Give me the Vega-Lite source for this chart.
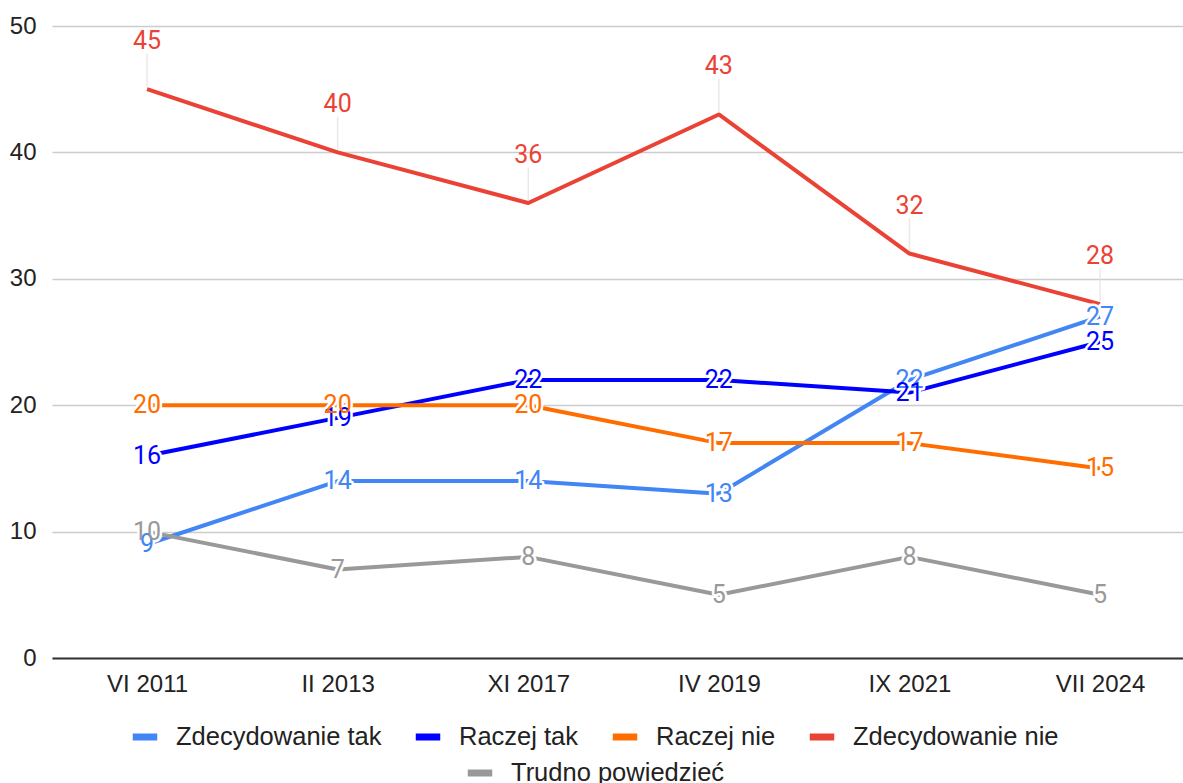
{
  "$schema": "https://vega.github.io/schema/vega-lite/v6.json",
  "autosize": {"type": "none"},
  "padding": {"left": 52, "top": 26, "right": 0, "bottom": 125},
  "width": 1131,
  "height": 632,
  "background": "white",
  "data": {
    "values": [
      {"date": "VI 2011", "series": "Zdecydowanie tak", "value": 9},
      {"date": "II 2013", "series": "Zdecydowanie tak", "value": 14},
      {"date": "XI 2017", "series": "Zdecydowanie tak", "value": 14},
      {"date": "IV 2019", "series": "Zdecydowanie tak", "value": 13},
      {"date": "IX 2021", "series": "Zdecydowanie tak", "value": 22},
      {"date": "VII 2024", "series": "Zdecydowanie tak", "value": 27},
      {"date": "VI 2011", "series": "Raczej tak", "value": 16},
      {"date": "II 2013", "series": "Raczej tak", "value": 19},
      {"date": "XI 2017", "series": "Raczej tak", "value": 22},
      {"date": "IV 2019", "series": "Raczej tak", "value": 22},
      {"date": "IX 2021", "series": "Raczej tak", "value": 21},
      {"date": "VII 2024", "series": "Raczej tak", "value": 25},
      {"date": "VI 2011", "series": "Raczej nie", "value": 20},
      {"date": "II 2013", "series": "Raczej nie", "value": 20},
      {"date": "XI 2017", "series": "Raczej nie", "value": 20},
      {"date": "IV 2019", "series": "Raczej nie", "value": 17},
      {"date": "IX 2021", "series": "Raczej nie", "value": 17},
      {"date": "VII 2024", "series": "Raczej nie", "value": 15},
      {"date": "VI 2011", "series": "Zdecydowanie nie", "value": 45},
      {"date": "II 2013", "series": "Zdecydowanie nie", "value": 40},
      {"date": "XI 2017", "series": "Zdecydowanie nie", "value": 36},
      {"date": "IV 2019", "series": "Zdecydowanie nie", "value": 43},
      {"date": "IX 2021", "series": "Zdecydowanie nie", "value": 32},
      {"date": "VII 2024", "series": "Zdecydowanie nie", "value": 28},
      {"date": "VI 2011", "series": "Trudno powiedzieć", "value": 10},
      {"date": "II 2013", "series": "Trudno powiedzieć", "value": 7},
      {"date": "XI 2017", "series": "Trudno powiedzieć", "value": 8},
      {"date": "IV 2019", "series": "Trudno powiedzieć", "value": 5},
      {"date": "IX 2021", "series": "Trudno powiedzieć", "value": 8},
      {"date": "VII 2024", "series": "Trudno powiedzieć", "value": 5}
    ]
  },
  "encoding": {
    "x": {
      "field": "date",
      "type": "ordinal",
      "sort": null,
      "scale": {"type": "point", "padding": 0.467, "align": 0.534},
      "axis": {
        "title": null,
        "labelAngle": 0,
        "labelFont": "Liberation Sans",
        "labelFontSize": 24,
        "labelColor": "#222222",
        "labelPadding": 14,
        "ticks": false,
        "grid": false,
        "domain": true,
        "domainColor": "#333333",
        "domainWidth": 2
      }
    },
    "y": {
      "field": "value",
      "type": "quantitative",
      "scale": {"domain": [0, 50], "nice": false, "zero": true},
      "axis": {
        "title": null,
        "values": [0, 10, 20, 30, 40, 50],
        "labelFont": "Liberation Sans",
        "labelFontSize": 24,
        "labelColor": "#222222",
        "labelPadding": 16,
        "ticks": false,
        "domain": false,
        "grid": true,
        "gridColor": "#cccccc",
        "gridWidth": 1.5
      }
    }
  },
  "layer": [
    {
      "transform": [{"filter": "datum.series !== 'Trudno powiedzieć'"}],
      "mark": {"type": "line", "strokeWidth": 4, "strokeJoin": "round"},
      "encoding": {
        "color": {
          "field": "series",
          "type": "nominal",
          "scale": {
            "domain": ["Zdecydowanie tak", "Raczej tak", "Raczej nie", "Zdecydowanie nie"],
            "range": ["#4285f4", "#0000ff", "#ff6d01", "#ea4335"]
          },
          "legend": {
            "title": null,
            "orient": "none",
            "direction": "horizontal",
            "legendX": 77,
            "legendY": 695,
            "symbolType": "stroke",
            "symbolSize": 600,
            "symbolStrokeWidth": 7,
            "labelFont": "Liberation Sans",
            "labelFontSize": 25.5,
            "labelColor": "#222222",
            "labelLimit": 400,
            "labelOffset": 15,
            "columnPadding": 19,
            "padding": 0
          }
        }
      }
    },
    {
      "transform": [{"filter": "datum.series === 'Trudno powiedzieć'"}],
      "mark": {"type": "line", "strokeWidth": 4, "strokeJoin": "round"},
      "encoding": {
        "color": {
          "field": "series",
          "type": "nominal",
          "scale": {"domain": ["Trudno powiedzieć"], "range": ["#999999"]},
          "legend": {
            "title": null,
            "orient": "none",
            "direction": "horizontal",
            "legendX": 412,
            "legendY": 731,
            "symbolType": "stroke",
            "symbolSize": 600,
            "symbolStrokeWidth": 7,
            "labelFont": "Liberation Sans",
            "labelFontSize": 25.5,
            "labelColor": "#222222",
            "labelLimit": 400,
            "labelOffset": 15,
            "padding": 0
          }
        }
      }
    },
    {
      "transform": [{"filter": "datum.series === 'Zdecydowanie nie'"}],
      "mark": {"type": "tick", "orient": "vertical", "size": 33, "thickness": 1.5, "yOffset": -19, "color": "#e0e0e0"}
    },
    {
      "transform": [{"filter": "datum.series !== 'Zdecydowanie nie'"}],
      "mark": {"type": "text", "font": "Roboto", "fontSize": 25, "baseline": "middle", "align": "center", "fill": "white", "stroke": "white", "strokeWidth": 5, "strokeJoin": "round"},
      "encoding": {"text": {"field": "value", "type": "quantitative"}}
    },
    {
      "transform": [{"filter": "datum.series !== 'Zdecydowanie nie'"}],
      "mark": {"type": "text", "font": "Roboto", "fontSize": 25, "baseline": "middle", "align": "center"},
      "encoding": {
        "text": {"field": "value", "type": "quantitative"},
        "color": {
          "field": "series",
          "type": "nominal",
          "scale": {
            "domain": ["Zdecydowanie tak", "Raczej tak", "Raczej nie", "Zdecydowanie nie", "Trudno powiedzieć"],
            "range": ["#4285f4", "#0000ff", "#ff6d01", "#ea4335", "#999999"]
          },
          "legend": null
        }
      }
    },
    {
      "transform": [{"filter": "datum.series === 'Zdecydowanie nie'"}],
      "mark": {"type": "text", "font": "Roboto", "fontSize": 25, "baseline": "alphabetic", "align": "center", "dy": -40, "color": "#ea4335"},
      "encoding": {"text": {"field": "value", "type": "quantitative"}}
    }
  ],
  "resolve": {"scale": {"color": "independent"}},
  "config": {"view": {"stroke": null}}
}
